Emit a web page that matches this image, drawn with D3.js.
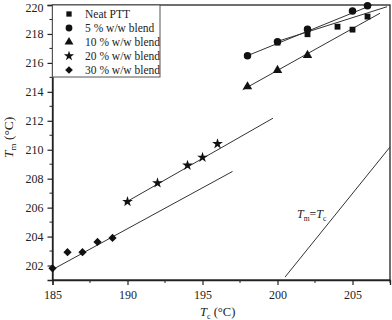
<!DOCTYPE html>
<html><head><meta charset="utf-8">
<script src="https://cdn.jsdelivr.net/npm/d3@7"></script>
<style>
html,body{margin:0;padding:0;background:#fff;}
svg{display:block;}
svg text{font-family:"Liberation Serif","DejaVu Serif",serif !important;}
</style></head>
<body><svg id="c" width="392" height="320"></svg>
<script>
// ---- data ----
const seriesNames = ["Neat PTT","5 % w/w blend","10 % w/w blend","20 % w/w blend","30 % w/w blend"];
const neatTc = [200, 202, 204, 205, 206];
const neatTm = [217.4, 217.98, 218.5, 218.3, 219.2];
const b5Tc = [198, 200, 202, 205, 206];
const b5Tm = [216.5, 217.47, 218.32, 219.59, 219.95];
const b10Tc = [198, 200, 202];
const b10Tm = [214.43, 215.56, 216.6];
const b20Tc = [190, 192, 194, 195, 196];
const b20Tm = [206.41, 207.7, 208.92, 209.47, 210.41];
const b30Tc = [185, 186, 187, 188, 189];
const b30Tm = [201.81, 202.92, 202.92, 203.63, 203.91];
// fitted lines (endpoints)
const fitNeatTc = [199.95, 207.3];  const fitNeatTm = [217.47, 219.88];
const fit5Tc = [198, 206.3];        const fit5Tm = [216.5, 220.0];
const fit10Tc = [197.68, 206.83];   const fit10Tm = [214.14, 219.43];
const fit20Tc = [189.8, 199.7];     const fit20Tm = [206.32, 212.18];
const fit30Tc = [185, 197.0];       const fit30Tm = [201.72, 208.5];
const eqTc = [200.5, 207.5];        const eqTm = [201.2, 210.19];
const xTicks = [185, 190, 195, 200, 205];
const yTicks = [202, 204, 206, 208, 210, 212, 214, 216, 218, 220];

// ---- layout ----
const FONT = "Liberation Serif, DejaVu Serif, serif";
const svg = d3.select("#c");
const L = 52.5, R = 390, T = 5, B = 280;
const x = d3.scaleLinear().domain([185, 207.5]).range([L, R]);
const y = d3.scaleLinear().domain([201, 220]).range([B, T]);

// frame
svg.append("rect").attr("x", L).attr("y", T).attr("width", R - L).attr("height", B - T)
  .attr("fill", "none").attr("stroke", "#222").attr("stroke-width", 1.3);

// axes
const xMinor = d3.range(187.5, 207.6, 5);
const yMinor = d3.range(203, 220, 2);
const gx = svg.append("g").attr("transform", `translate(0,${B})`);
gx.call(d3.axisBottom(x).tickValues(xTicks).tickFormat(d3.format("d")).tickSize(5).tickPadding(5));
gx.selectAll(".minor").data(xMinor).enter().append("line").attr("class","minor")
  .attr("x1", d => x(d)).attr("x2", d => x(d)).attr("y1", 0).attr("y2", 3).attr("stroke", "#222");
const gy = svg.append("g").attr("transform", `translate(${L},0)`);
gy.call(d3.axisLeft(y).tickValues(yTicks).tickFormat(d3.format("d")).tickSize(5).tickPadding(4));
gy.selectAll(".minor").data(yMinor).enter().append("line").attr("class","minor")
  .attr("y1", d => y(d)).attr("y2", d => y(d)).attr("x1", 0).attr("x2", -3).attr("stroke", "#222");
[gx, gy].forEach(g => {
  g.attr("font-family", FONT);
  g.select(".domain").attr("stroke", "#222").attr("stroke-width", 1.3);
  g.selectAll(".tick line").attr("stroke", "#222").attr("stroke-width", 1.2);
  g.selectAll(".tick text").attr("font-family", FONT).attr("font-size", 12).attr("fill", "#222");
});
// keep the top label inside the picture
gy.selectAll(".tick text").filter(d => d === 220).attr("dy", "0.55em");

// fit lines
const line = d3.line().x(d => x(d[0])).y(d => y(d[1]));
const fits = [[fitNeatTc, fitNeatTm],[fit5Tc, fit5Tm],[fit10Tc, fit10Tm],[fit20Tc, fit20Tm],[fit30Tc, fit30Tm],[eqTc, eqTm]];
svg.append("g").selectAll("path").data(fits).enter().append("path")
  .attr("d", f => line(d3.zip(f[0], f[1])))
  .attr("fill", "none").attr("stroke", "#333").attr("stroke-width", 1);

// markers
const types = [d3.symbolSquare, d3.symbolCircle, d3.symbolTriangle, d3.symbolStar, d3.symbolSquare];
const sizes = [34, 44, 38, 36, 34];
const rot = [0, 0, 0, 0, 45];
const data = [[neatTc, neatTm],[b5Tc, b5Tm],[b10Tc, b10Tm],[b20Tc, b20Tm],[b30Tc, b30Tm]];
data.forEach((s, i) => {
  svg.append("g").selectAll("path").data(d3.zip(s[0], s[1])).enter().append("path")
    .attr("d", d3.symbol().type(types[i]).size(sizes[i])())
    .attr("transform", d => `translate(${x(d[0])},${y(d[1]) + (i === 2 ? 1 : 0)}) rotate(${rot[i]})`)
    .attr("fill", "#111");
});

// legend
const lg = svg.append("g");
lg.append("rect").attr("x", L).attr("y", T).attr("width", 107.5).attr("height", 72)
  .attr("fill", "#fff").attr("stroke", "#555").attr("stroke-width", 1);
const lsizes = [28, 36, 34, 32, 30];
seriesNames.forEach((n, i) => {
  const yy = 14 + i * 14;
  lg.append("path").attr("d", d3.symbol().type(types[i]).size(lsizes[i])())
    .attr("transform", `translate(69,${yy}) rotate(${rot[i]})`).attr("fill", "#111");
  lg.append("text").attr("x", 85).attr("y", yy + 4).attr("font-family", FONT)
    .attr("font-size", 11.5).attr("fill", "#222").text(n);
});

// axis titles
const xt = svg.append("text").attr("x", 200).attr("y", 316).attr("font-family", FONT).attr("font-size", 12.5).attr("fill", "#222");
xt.append("tspan").attr("font-style", "italic").text("T");
xt.append("tspan").attr("font-size", 8).attr("dy", 2.5).text("c");
xt.append("tspan").attr("dy", -2.5).text(" (°C)");

const yt = svg.append("text").attr("transform", "translate(13,158) rotate(-90)").attr("font-family", FONT).attr("font-size", 13.5).attr("fill", "#222");
yt.append("tspan").attr("font-style", "italic").text("T");
yt.append("tspan").attr("font-size", 9).attr("dy", 2.5).text("m");
yt.append("tspan").attr("dy", -2.5).text(" (°C)");

// annotation
const an = svg.append("text").attr("x", 297).attr("y", 218).attr("font-family", FONT).attr("font-size", 12).attr("fill", "#222");
an.append("tspan").attr("font-style", "italic").text("T");
an.append("tspan").attr("font-size", 7.5).attr("dy", 2.5).text("m");
an.append("tspan").attr("dy", -2.5).text("=");
an.append("tspan").attr("font-style", "italic").text("T");
an.append("tspan").attr("font-size", 7.5).attr("dy", 2.5).text("c");
</script></body></html>
